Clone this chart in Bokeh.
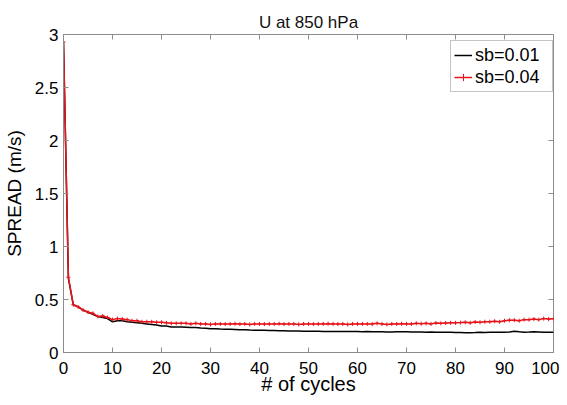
import math
from bokeh.plotting import figure
from bokeh.models import Range1d, FixedTicker, Legend, LegendItem
from bokeh.embed import file_html
from bokeh.resources import INLINE

cycles = list(range(0, 101))

sb001 = [2.93, 0.70, 0.45, 0.43, 0.40, 0.38, 0.36, 0.34, 0.33, 0.32,
         0.29, 0.30, 0.30, 0.29, 0.285, 0.28, 0.275, 0.27, 0.265, 0.26,
         0.25, 0.25, 0.24, 0.24, 0.24, 0.238, 0.235, 0.235, 0.23, 0.228,
         0.225, 0.225, 0.222, 0.22, 0.22, 0.218, 0.215, 0.215, 0.212, 0.21,
         0.21, 0.21, 0.208, 0.207, 0.205, 0.205, 0.204, 0.203, 0.202, 0.201,
         0.20, 0.20, 0.20, 0.199, 0.198, 0.198, 0.197, 0.197, 0.198, 0.197,
         0.197, 0.196, 0.198, 0.196, 0.195, 0.195, 0.194, 0.194, 0.195, 0.195,
         0.195, 0.194, 0.194, 0.193, 0.192, 0.193, 0.192, 0.191, 0.19, 0.19,
         0.188, 0.188, 0.187, 0.187, 0.188, 0.19, 0.189, 0.19, 0.191, 0.19,
         0.19, 0.193, 0.20, 0.195, 0.192, 0.193, 0.195, 0.194, 0.192, 0.192,
         0.192]

sb004 = [2.93, 0.71, 0.45, 0.43, 0.40, 0.38, 0.37, 0.34, 0.345, 0.33,
         0.31, 0.32, 0.315, 0.31, 0.30, 0.30, 0.29, 0.29, 0.29, 0.285,
         0.285, 0.28, 0.275, 0.275, 0.275, 0.275, 0.27, 0.275, 0.27, 0.27,
         0.265, 0.27, 0.27, 0.268, 0.27, 0.272, 0.268, 0.27, 0.265, 0.27,
         0.27, 0.268, 0.27, 0.27, 0.272, 0.268, 0.27, 0.27, 0.265, 0.27,
         0.27, 0.268, 0.27, 0.27, 0.272, 0.27, 0.268, 0.27, 0.265, 0.27,
         0.27, 0.27, 0.27, 0.268, 0.275, 0.27, 0.265, 0.27, 0.27, 0.272,
         0.27, 0.27, 0.275, 0.272, 0.275, 0.27, 0.278, 0.275, 0.278, 0.28,
         0.28, 0.282, 0.285, 0.28, 0.288, 0.285, 0.29, 0.29, 0.295, 0.29,
         0.30, 0.305, 0.305, 0.30, 0.31, 0.31, 0.315, 0.31, 0.32, 0.315,
         0.318]

x_ticks = [0, 10, 20, 30, 40, 50, 60, 70, 80, 90, 100]
y_ticks = [0, 0.5, 1, 1.5, 2, 2.5, 3]
y_tick_labels = ["0", "0.5", "1", "1.5", "2", "2.5", "3"]

FONT = "Liberation Sans"
FRAME = "#8c8c8c"

p = figure(frame_width=490, frame_height=318, output_backend="svg", toolbar_location=None,
           x_range=Range1d(x_ticks[0], x_ticks[-1]), y_range=Range1d(y_ticks[0], y_ticks[-1]),
           min_border_left=58, min_border_right=6, min_border_top=34, min_border_bottom=0,
           title="U at 850 hPa")
p.title.align = "center"
p.title.text_font = FONT
p.title.text_font_size = "17px"
p.title.text_font_style = "normal"
p.title.text_color = "#111111"
p.title.standoff = 5
p.xgrid.visible = False
p.ygrid.visible = False
p.outline_line_color = FRAME
p.outline_line_width = 1

for ax, ticks in ((p.xaxis[0], x_ticks), (p.yaxis[0], y_ticks)):
    ax.ticker = FixedTicker(ticks=ticks)
    ax.axis_line_color = FRAME
    ax.major_tick_line_color = FRAME
    ax.major_tick_in = 5
    ax.major_tick_out = 0
    ax.minor_tick_line_color = None
    ax.major_label_text_font = FONT
    ax.major_label_text_font_size = "17px"
    ax.major_label_text_color = "black"
    ax.axis_label_text_font = FONT
    ax.axis_label_text_font_style = "normal"
    ax.axis_label_text_color = "black"

p.xaxis.axis_label = "# of cycles"
p.xaxis.axis_label_text_font_size = "20px"
p.xaxis.major_label_standoff = 9
p.xaxis.axis_label_standoff = -4
p.yaxis.axis_label = "SPREAD (m/s)"
p.yaxis.axis_label_text_font_size = "19px"
p.yaxis.major_label_overrides = {t: l for t, l in zip(y_ticks, y_tick_labels)}
p.yaxis.major_label_standoff = 5
p.yaxis.axis_label_standoff = 7

# inward tick marks on the top and right edges of the box
p.scatter(x_ticks, [y_ticks[-1]] * len(x_ticks), marker="dash", size=10,
          angle=math.pi / 2, line_color=FRAME, line_width=1)
p.scatter([x_ticks[-1]] * len(y_ticks), y_ticks, marker="dash", size=10,
          line_color=FRAME, line_width=1)

RED = "#e8141a"
l1 = p.line(cycles, sb001, line_color="black", line_width=1.5)
l2 = p.line(cycles, sb004, line_color=RED, line_width=1.5)
m2 = p.scatter(cycles, sb004, marker="cross", size=4, line_color=RED, line_width=1)

legend = Legend(items=[LegendItem(label="sb=0.01", renderers=[l1]),
                       LegendItem(label="sb=0.04", renderers=[l2, m2])],
                location=(387, 260))
legend.label_text_font = FONT
legend.label_text_font_size = "18px"
legend.label_text_color = "black"
legend.border_line_color = FRAME
legend.margin = 0
legend.padding = 3
legend.spacing = 0
legend.glyph_width = 18
legend.label_standoff = 3
legend.label_width = 74
legend.label_height = 22
legend.glyph_height = 22
p.add_layout(legend)

open("out.html", "w").write(file_html(p, INLINE))
